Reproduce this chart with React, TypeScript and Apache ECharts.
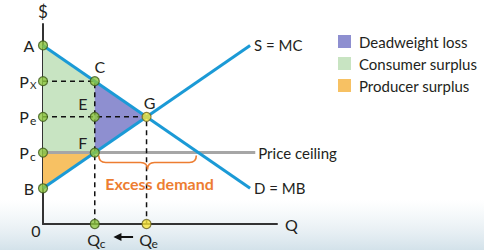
import React, { useEffect, useRef } from "react";
import * as echarts from "echarts";

// Market values (Q units, P units)
const demandLine: [number, number][] = [[0, 25], [20, 5]];
const supplyLine: [number, number][] = [[0, 5], [20, 25]];
const ceilingLine: [number, number][] = [[0, 10], [20.5, 10]];
const dashedC: [number, number][] = [[0, 20], [5, 20], [5, 0]];
const dashedG: [number, number][] = [[0, 15], [10, 15], [10, 0]];

const consumerSurplus: [number, number][] = [[0, 25], [5, 20], [5, 10], [0, 10]];
const deadweightLoss: [number, number][] = [[5, 20], [10, 15], [5, 10]];
const producerSurplus: [number, number][] = [[0, 10], [5, 10], [0, 5]];

const excessDemandRange: [number, number] = [5, 15]; // Qc .. Qd at ceiling price
const ceilingPrice = 10;
const arrowQ: [number, number] = [8.7, 6.8];

const pointNames = ["A", "Px", "Pe", "Pc", "B", "C", "E", "F", "G", "Qc", "Qe", "O"];
const pointQ = [0, 0, 0, 0, 0, 5, 5, 5, 10, 5, 10, 0];
const pointP = [25, 20, 15, 10, 5, 20, 15, 10, 15, 0, 0, 0];
const pointMain = ["A", "P", "P", "P", "B", "C", "E", "F", "G", "Q", "Q", "0"];
const pointSub = ["", "X", "e", "c", "", "", "", "", "", "c", "e", ""];

const FONT = "Lato";
const TXT = "#231f20";
const BLUE = "#1b9ad6";
const GREEN_DOT = "#8dc63f";
const YELLOW_DOT = "#f7e43a";
const ORANGE = "#ed7d31";

// label offsets relative to the point, in px: [dx, dy] of text centre
function labelPos(name: string): [number, number] {
  switch (name) {
    case "A":
    case "B":
      return [-14, 0];
    case "Px":
    case "Pe":
    case "Pc":
      return [-16, 0];
    case "C":
      return [5, -15];
    case "G":
      return [3, -14];
    case "E":
      return [-12, -13];
    case "F":
      return [-12, -10];
    case "Qc":
    case "Qe":
      return [2, 15];
    default:
      return [-7, 6];
  }
}

function polySeries(name: string, poly: [number, number][], color: string) {
  return {
    type: "custom",
    name,
    itemStyle: { color },
    data: [[0, 0]],
    z: 1,
    renderItem: (_p: any, api: any) => ({
      type: "polygon",
      shape: { points: poly.map((pt) => api.coord(pt)) },
      style: { fill: color },
    }),
  };
}

export default function App() {
  const ref = useRef<HTMLDivElement>(null);
  useEffect(() => {
    document.body.style.margin = "0";
    const chart = echarts.init(ref.current!, undefined, { renderer: "svg" });
    const scatterData = pointNames.map((n, i) => {
      const yellow = n === "G" || n === "Qe";
      return {
        value: [pointQ[i], pointP[i]],
        symbol: n === "O" ? "none" : "circle",
        itemStyle: {
          color: yellow ? YELLOW_DOT : GREEN_DOT,
          borderColor: yellow ? "#6b6420" : "#3d5a1a",
          borderWidth: 1.2,
        },
      };
    });
    chart.setOption({
      animation: false,
      backgroundColor: "#ffffff",
      textStyle: { fontFamily: FONT },
      graphic: [
        {
          type: "rect",
          z: -10,
          silent: true,
          shape: { x: 0, y: 200, width: 484, height: 50 },
          style: {
            fill: new echarts.graphic.LinearGradient(0, 0, 0, 1, [
              { offset: 0, color: "rgba(225,235,240,0)" },
              { offset: 0.6, color: "rgba(218,230,237,0.6)" },
              { offset: 1, color: "#d3e2ea" },
            ]),
          },
        },
      ],
      legend: {
        orient: "vertical",
        left: 333,
        top: 29,
        icon: "rect",
        itemWidth: 13,
        itemHeight: 13,
        itemGap: 7,
        data: ["Deadweight loss", "Consumer surplus", "Producer surplus"],
        textStyle: { fontFamily: FONT, fontSize: 15, color: TXT, padding: [0, 0, 0, 3] },
      },
      grid: { left: 43, right: 207, top: 24, bottom: 26, containLabel: false },
      xAxis: {
        type: "value",
        min: 0,
        max: 22.6,
        name: "Q",
        nameLocation: "end",
        nameGap: 8,
        nameTextStyle: { fontFamily: FONT, fontSize: 16, color: TXT },
        axisLine: { show: true, lineStyle: { color: "#333", width: 2 } },
        axisTick: { show: false },
        axisLabel: { show: false },
        splitLine: { show: false },
      },
      yAxis: {
        type: "value",
        min: 0,
        max: 28,
        name: "$",
        nameLocation: "end",
        nameGap: 4,
        nameTextStyle: { fontFamily: FONT, fontSize: 17, color: TXT, align: "center" },
        axisLine: { show: true, lineStyle: { color: "#333", width: 2 } },
        axisTick: { show: false },
        axisLabel: { show: false },
        splitLine: { show: false },
      },
      series: [
        polySeries("Consumer surplus", consumerSurplus, "#c8e4c2"),
        polySeries("Deadweight loss", deadweightLoss, "#8e8fd0"),
        polySeries("Producer surplus", producerSurplus, "#f7c163"),
        {
          type: "line",
          name: "Price ceiling",
          data: ceilingLine,
          symbol: "none",
          lineStyle: { color: "#a6a6a6", width: 3 },
          z: 3,
          endLabel: { show: true, formatter: "Price ceiling", distance: 3, fontFamily: FONT, fontSize: 15, color: TXT },
        },
        {
          type: "line",
          name: "dashC",
          data: dashedC,
          symbol: "none",
          lineStyle: { color: "#111", width: 1.5, type: [5, 4] },
          z: 4,
        },
        {
          type: "line",
          name: "dashG",
          data: dashedG,
          symbol: "none",
          lineStyle: { color: "#111", width: 1.5, type: [5, 4] },
          z: 4,
        },
        {
          type: "line",
          name: "D = MB",
          data: demandLine,
          symbol: "none",
          lineStyle: { color: BLUE, width: 3 },
          z: 5,
          endLabel: { show: true, formatter: "D = MB", distance: 4, fontFamily: FONT, fontSize: 15, color: TXT },
        },
        {
          type: "line",
          name: "S = MC",
          data: supplyLine,
          symbol: "none",
          lineStyle: { color: BLUE, width: 3 },
          z: 5,
          endLabel: { show: true, formatter: "S = MC", distance: 4, fontFamily: FONT, fontSize: 15, color: TXT },
        },
        {
          type: "custom",
          name: "brace",
          data: [[0, 0]],
          z: 6,
          clip: false,
          renderItem: (_p: any, api: any) => {
            const a = api.coord([excessDemandRange[0], ceilingPrice]);
            const b = api.coord([excessDemandRange[1], ceilingPrice]);
            const x1 = a[0] + 4;
            const x2 = b[0] - 2;
            const xm = (x1 + x2) / 2;
            const y0 = a[1] + 3;
            const y1 = a[1] + 10;
            const y2 = a[1] + 17;
            const d =
              `M${x1},${y0} Q${x1},${y1} ${x1 + 7},${y1} L${xm - 7},${y1} Q${xm},${y1} ${xm},${y2} ` +
              `Q${xm},${y1} ${xm + 7},${y1} L${x2 - 7},${y1} Q${x2},${y1} ${x2},${y0}`;
            const o = api.coord([0, 0]);
            const ax1 = api.coord([arrowQ[0], 0])[0];
            const ax2 = api.coord([arrowQ[1], 0])[0];
            const ay = o[1] + 13;
            return {
              type: "group",
              children: [
                { type: "path", shape: { pathData: d }, style: { fill: "none", stroke: ORANGE, lineWidth: 1.6 } },
                {
                  type: "text",
                  x: xm + 12,
                  y: a[1] + 31,
                  style: {
                    text: "Excess demand",
                    fill: ORANGE,
                    font: `bold 16px ${FONT}`,
                    align: "center",
                    verticalAlign: "middle",
                  },
                },
                { type: "line", shape: { x1: ax1, y1: ay, x2: ax2 + 6, y2: ay }, style: { stroke: "#111", lineWidth: 2 } },
                {
                  type: "polygon",
                  shape: { points: [[ax2, ay], [ax2 + 8, ay - 4], [ax2 + 8, ay + 4]] },
                  style: { fill: "#111" },
                },
              ],
            };
          },
        },
        {
          type: "custom",
          name: "pointLabels",
          data: pointNames.map((_n, i) => [pointQ[i], pointP[i]]),
          z: 8,
          clip: false,
          renderItem: (params: any, api: any) => {
            const i = params.dataIndex;
            const c = api.coord([api.value(0), api.value(1)]);
            const [dx, dy] = labelPos(pointNames[i]);
            const main = pointMain[i];
            const sub = pointSub[i];
            const mainW = main === "P" || main === "Q" ? 10 : 0;
            const children: any[] = [
              {
                type: "text",
                x: c[0] + dx - (sub ? 3 : 0),
                y: c[1] + dy,
                style: {
                  text: main,
                  fill: TXT,
                  font: `16px ${FONT}`,
                  align: "center",
                  verticalAlign: "middle",
                },
              },
            ];
            if (sub) {
              children.push({
                type: "text",
                x: c[0] + dx - 3 + mainW / 2 + 1,
                y: c[1] + dy + 4,
                style: {
                  text: sub,
                  fill: TXT,
                  font: `${sub === "X" ? 10 : 12}px ${FONT}`,
                  align: "left",
                  verticalAlign: "middle",
                },
              });
            }
            return { type: "group", children };
          },
        },
        {
          type: "scatter",
          name: "points",
          data: scatterData,
          symbolSize: 9,
          z: 7,
          clip: false,
        },
      ],
    });
    return () => chart.dispose();
  }, []);
  return <div ref={ref} style={{ width: 484, height: 250 }} />;
}
